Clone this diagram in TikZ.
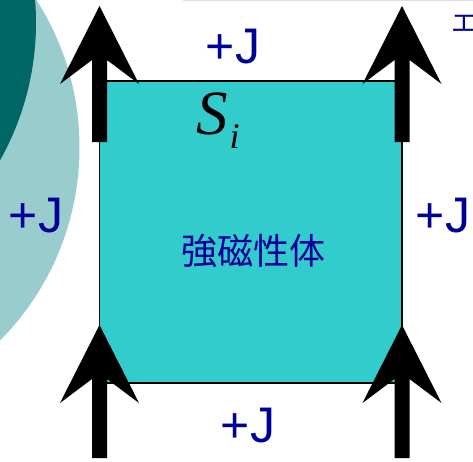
\documentclass[tikz,border=0pt]{standalone}
\usepackage{fontspec}
\setmainfont{Liberation Sans}
\newfontfamily\jpfont{Noto Sans CJK JP}
\newfontfamily\timesfont{Liberation Serif}
\definecolor{jblue}{RGB}{0,0,153}
\definecolor{darkteal}{RGB}{0,102,102}
\definecolor{paleteal}{RGB}{153,204,204}
\definecolor{ferro}{RGB}{51,204,204}
\tikzset{
  coupling/.style={text=jblue,inner sep=0pt,anchor=base,font=\fontsize{50}{50}\selectfont}
}

\begin{document}
\begin{tikzpicture}[x=1pt,y=-1pt]
  \useasboundingbox (0,0) rectangle (473,461);
  \fill[paleteal] (-194.5,147.5) circle (274pt);
  \fill[darkteal] (-246,22.4) circle (282pt);
  \draw[black!13,line width=1pt] (183,0.5)--(473,0.5);
  \draw[fill=ferro,line width=1.5pt] (99.5,81) rectangle (402,383);
  % spins
  \foreach \x/\t/\b in {99.5/6/142, 402/6/142, 99.5/325/458, 402/325/458}
    \fill (\x,\t)--++(39.5,78)--++(-32,-24)--(\x+7.5,\b)--(\x-7.5,\b)--(\x-7.5,\t+54)--(\x-39.5,\t+78)--cycle;
  \node[coupling] (jtop) at (233,63) {+J};
  \node[coupling] (jleft) at (36,232) {+J};
  \node[coupling] (jright) at (443,232) {+J};
  \node[coupling] (jbottom) at (248,442) {+J};
  \node[anchor=base west,inner sep=0pt] (spin) at (196,134)
    {\timesfont\itshape\fontsize{63}{63}\selectfont S\hspace{2pt}\raisebox{-14pt}{\fontsize{36}{36}\selectfont i}};
  \node[text=jblue,inner sep=0pt,font=\jpfont\fontsize{36}{36}\selectfont] (ferrolabel) at (253,251) {強磁性体};
  \node[text=jblue,inner sep=0pt,anchor=west,font=\jpfont\fontsize{26}{26}\selectfont] (kana) at (451,24) {エ};
\end{tikzpicture}
\end{document}
